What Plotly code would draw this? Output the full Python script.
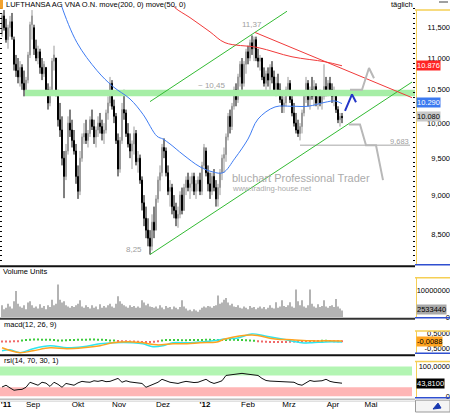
import math
import plotly.graph_objects as go

# ---------------- data ----------------
days = list(range(171))
opens = [11.40, 11.70, 11.50, 11.30, 11.50, 11.60, 11.30, 10.90, 10.80, 10.70,
         10.85, 10.60, 10.50, 10.65, 11.05, 11.55, 11.50, 11.15, 11.00, 11.10,
         10.85, 10.75, 10.85, 10.50, 10.30, 10.50, 10.95, 11.00, 10.40, 10.05,
         9.90, 9.50, 9.25, 9.60, 10.00, 9.90, 9.75, 9.60, 9.25, 9.05,
         9.50, 9.80, 9.85, 9.75, 9.85, 10.05, 9.95, 9.80, 9.90, 10.00,
         9.95, 9.85, 9.90, 10.15, 10.30, 10.60, 10.25, 10.10, 9.75, 9.35,
         9.75, 10.20, 10.15, 9.85, 9.70, 9.60, 9.70, 9.85, 9.45, 9.50,
         9.20, 8.90, 8.70, 8.55, 8.45, 8.35, 8.65, 8.55, 8.95, 9.20,
         9.30, 9.65, 9.60, 9.30, 9.05, 9.10, 8.85, 8.80, 8.70, 8.75,
         9.00, 8.80, 9.10, 9.20, 9.10, 9.15, 9.25, 9.05, 9.15, 9.20,
         9.05, 9.40, 9.60, 9.30, 9.15, 9.05, 9.25, 9.10, 8.95, 9.10,
         9.30, 9.50, 9.55, 9.80, 10.10, 9.95, 10.25, 10.50, 10.35, 10.70,
         10.90, 10.60, 10.90, 11.10, 11.00, 11.25, 11.15, 11.30, 11.00, 10.95,
         11.00, 10.70, 10.60, 10.75, 10.65, 10.85, 10.70, 10.50, 10.60, 10.50,
         10.35, 10.25, 10.30, 10.50, 10.60, 10.35, 10.15, 10.00, 9.90, 9.85,
         9.95, 10.15, 10.40, 10.60, 10.35, 10.50, 10.40, 10.55, 10.30, 10.40,
         10.30, 10.40, 10.55, 10.50, 10.60, 10.50, 10.40, 10.45, 10.20, 10.05,
         10.10]
closes = [11.70, 11.50, 11.30, 11.50, 11.60, 11.35, 10.90, 10.80, 10.70, 10.85,
          10.60, 10.50, 10.65, 11.05, 11.55, 11.70, 11.15, 11.00, 11.10, 10.85,
          10.75, 10.90, 10.50, 10.30, 10.50, 10.95, 11.05, 10.45, 10.05, 9.90,
          9.50, 9.25, 9.60, 10.00, 9.90, 9.75, 9.60, 9.25, 9.05, 9.50,
          9.80, 9.85, 9.75, 9.85, 10.05, 9.95, 9.80, 9.90, 10.00, 9.95,
          9.85, 9.90, 10.15, 10.30, 10.60, 10.25, 10.10, 9.75, 9.35, 9.75,
          10.20, 10.15, 9.85, 9.70, 9.60, 9.70, 9.85, 9.45, 9.50, 9.20,
          8.90, 8.70, 8.55, 8.45, 8.35, 8.65, 8.55, 8.95, 9.20, 9.30,
          9.65, 9.60, 9.30, 9.05, 9.10, 8.85, 8.80, 8.70, 8.75, 9.00,
          8.80, 9.10, 9.20, 9.10, 9.15, 9.25, 9.05, 9.15, 9.20, 9.05,
          9.40, 9.65, 9.30, 9.15, 9.05, 9.25, 9.10, 8.95, 9.10, 9.30,
          9.50, 9.55, 9.80, 10.10, 9.95, 10.25, 10.50, 10.35, 10.70, 10.90,
          10.60, 10.90, 11.10, 11.00, 11.25, 11.15, 11.30, 11.00, 10.95, 11.00,
          10.70, 10.60, 10.75, 10.65, 10.85, 10.70, 10.50, 10.60, 10.50, 10.35,
          10.25, 10.30, 10.50, 10.60, 10.35, 10.15, 10.00, 9.90, 9.85, 9.95,
          10.15, 10.40, 10.60, 10.35, 10.50, 10.40, 10.55, 10.30, 10.40, 10.30,
          10.40, 10.55, 10.50, 10.60, 10.50, 10.40, 10.45, 10.20, 10.05, 10.10,
          10.08]
highs = [11.75, 11.80, 11.65, 11.55, 11.70, 11.75, 11.35, 11.05, 11.00, 10.95,
         10.90, 10.80, 10.70, 11.10, 11.60, 11.80, 11.55, 11.30, 11.20, 11.15,
         11.00, 10.95, 10.85, 10.60, 10.55, 11.00, 11.20, 11.00, 10.50, 10.30,
         10.10, 9.60, 9.70, 10.10, 10.20, 10.05, 9.90, 9.70, 9.40, 9.60,
         9.85, 10.00, 10.05, 9.90, 10.10, 10.20, 10.05, 9.95, 10.10, 10.15,
         10.05, 10.00, 10.20, 10.40, 10.70, 10.65, 10.35, 10.15, 9.85, 9.80,
         10.30, 10.50, 10.20, 10.00, 9.85, 9.75, 9.95, 9.90, 9.60, 9.55,
         9.25, 9.00, 8.85, 8.70, 8.55, 8.75, 8.85, 9.00, 9.25, 9.40,
         9.70, 9.78, 9.65, 9.40, 9.20, 9.15, 9.00, 8.90, 8.85, 9.05,
         9.10, 9.15, 9.25, 9.30, 9.25, 9.30, 9.30, 9.20, 9.25, 9.30,
         9.45, 9.70, 9.65, 9.40, 9.30, 9.30, 9.35, 9.20, 9.15, 9.35,
         9.55, 9.65, 9.85, 10.15, 10.20, 10.30, 10.55, 10.60, 10.75, 10.95,
         11.00, 10.95, 11.15, 11.20, 11.30, 11.37, 11.35, 11.35, 11.15, 11.05,
         11.00, 10.85, 10.80, 10.85, 10.90, 10.95, 10.80, 10.70, 10.75, 10.60,
         10.45, 10.40, 10.55, 10.70, 10.65, 10.45, 10.30, 10.15, 10.05, 10.00,
         10.20, 10.45, 10.70, 10.65, 10.55, 10.70, 10.65, 10.60, 10.45, 10.50,
         10.45, 10.90, 10.70, 10.65, 10.70, 10.60, 10.55, 10.45, 10.25, 10.15,
         10.15]
lows = [11.35, 11.45, 11.25, 11.15, 11.35, 11.30, 10.80, 10.70, 10.60, 10.55,
        10.50, 10.40, 10.42, 10.60, 11.00, 11.30, 11.05, 10.95, 10.90, 10.75,
        10.65, 10.70, 10.45, 10.20, 10.25, 10.45, 10.80, 10.40, 9.95, 9.80,
        9.40, 8.96, 9.20, 9.55, 9.80, 9.65, 9.55, 9.15, 8.95, 9.00,
        9.45, 9.70, 9.70, 9.65, 9.80, 9.90, 9.70, 9.65, 9.80, 9.85,
        9.75, 9.70, 9.85, 10.05, 10.25, 10.20, 10.00, 9.70, 9.25, 9.30,
        9.70, 10.05, 9.80, 9.65, 9.50, 9.35, 9.55, 9.40, 9.30, 9.15,
        8.80, 8.60, 8.45, 8.35, 8.25, 8.30, 8.45, 8.55, 8.90, 9.05,
        9.25, 9.50, 9.25, 9.00, 8.85, 8.75, 8.70, 8.60, 8.58, 8.70,
        8.75, 8.80, 9.00, 9.05, 8.95, 9.05, 9.00, 8.95, 9.05, 9.00,
        9.00, 9.35, 9.25, 9.05, 8.95, 9.00, 9.05, 8.85, 8.85, 9.00,
        9.20, 9.30, 9.45, 9.75, 9.85, 9.90, 10.20, 10.25, 10.30, 10.55,
        10.50, 10.55, 10.75, 10.90, 10.95, 11.05, 10.95, 10.95, 10.85, 10.80,
        10.65, 10.55, 10.50, 10.55, 10.50, 10.60, 10.45, 10.40, 10.45, 10.30,
        10.15, 10.15, 10.25, 10.40, 10.30, 10.10, 9.95, 9.85, 9.80, 9.75,
        9.85, 10.10, 10.30, 10.25, 10.20, 10.35, 10.25, 10.25, 10.20, 10.25,
        10.20, 10.35, 10.40, 10.40, 10.45, 10.30, 10.25, 10.15, 10.00, 9.95,
        10.00]
vol_mio = [4.5, 3.0, 3.5, 5.0, 4.0, 3.2, 6.0, 9.8, 5.0, 4.0,
           3.5, 4.5, 3.0, 5.5, 6.0, 4.5, 3.5, 4.0, 3.2, 4.8,
           3.5, 4.2, 3.0, 4.5, 3.8, 6.5, 4.5, 5.0, 12.2, 6.5,
           5.5, 6.0, 4.5, 4.0, 3.5, 4.2, 3.8, 4.5, 5.0, 6.3,
           4.0, 3.5, 4.5, 3.8, 3.2, 4.5, 3.5, 4.0, 3.0, 4.8,
           3.5, 4.2, 3.6, 4.5, 5.0, 4.0, 3.5, 5.0, 7.8, 6.0,
           5.0, 4.5, 4.0, 3.5, 4.5, 3.8, 4.2, 3.5, 4.0, 3.5,
           6.3, 5.5, 4.5, 5.0, 4.0, 3.8, 3.5, 4.0, 3.2, 4.5,
           3.6, 3.0, 4.2, 3.5, 3.8, 3.0, 4.0, 3.5, 3.0, 3.8,
           6.3, 4.0, 3.2, 2.5, 2.8, 2.2, 3.0, 2.5, 2.0, 2.8,
           3.5, 4.0, 3.6, 4.2, 4.0, 3.5, 4.2, 4.5, 8.1, 5.0,
           5.5, 6.5, 7.2, 5.5, 4.5, 5.0, 4.0, 3.8, 4.5, 3.5,
           3.2, 4.0, 3.5, 3.0, 4.2, 3.5, 3.8, 3.0, 3.5, 4.0,
           3.2, 3.8, 3.0, 3.5, 4.5, 3.5, 3.2, 5.6, 3.5, 4.0,
           6.3, 4.2, 3.8, 4.5, 5.6, 4.0, 3.5, 10.4, 6.0, 4.5,
           6.3, 4.0, 3.5, 4.5, 10.4, 5.0, 4.0, 3.5, 4.8, 3.8,
           4.2, 6.3, 4.0, 3.5, 4.2, 4.5, 3.8, 6.8, 4.0, 3.2,
           2.53]

ma50_idx = [28, 30, 37.5, 47.5, 55.5, 64, 70.5, 77.5, 80.5, 84, 90.5, 99, 105.5, 110.5,
            116.5, 123, 128, 136.5, 145, 153, 161.5, 166.5, 170]
ma50_val = [12.10, 11.85, 11.25, 10.80, 10.55, 10.36, 10.13, 9.81, 9.77, 9.70, 9.55, 9.38,
            9.31, 9.30, 9.50, 9.77, 10.06, 10.24, 10.25, 10.25, 10.31, 10.33, 10.29]
ma200_idx = [84, 86.5, 94, 104, 111.5, 128, 145, 161.5, 170]
ma200_val = [11.95, 11.84, 11.67, 11.43, 11.25, 11.17, 11.02, 10.94, 10.876]

support_idx = [74, 205]
support_val = [8.25, 10.62]
channel_idx = [74, 142.5]
channel_val = [10.32, 11.78]
resist_idx = [126.5, 205]
resist_val = [11.42, 10.38]
band_idx = [11.5, 206.5]
band_lo, band_hi = 10.40, 10.50
level_idx = [149, 204]
level_val = 9.683
up_idx = [174, 180, 183.5, 186]
up_val = [10.50, 10.50, 10.84, 10.68]
down_idx = [173.5, 179, 182, 187, 190.5]
down_val = [9.98, 9.98, 9.68, 9.68, 9.20]
arrow_idx = [171.5, 175, 177]
arrow_val = [10.18, 10.43, 10.31]

macd_idx = [0, 4, 9, 15.5, 24, 32.5, 40.5, 49, 55.5, 65.5, 70.5, 75.5, 80.5, 85.5, 92.5,
            99, 105.5, 111.5, 118, 125, 131.5, 140, 150, 155, 161.5, 170]
macd_val = [-0.67, -0.60, -0.80, -0.53, -0.33, -0.47, -0.40, -0.20, -0.13, -0.13, -0.20,
            -0.40, -0.33, -0.13, -0.13, -0.07, 0.0, 0.13, 0.20, 0.47, 0.33, 0.13, -0.13,
            -0.13, -0.07, -0.07]
signal_idx = [0, 9, 15.5, 24, 32.5, 40.5, 49, 55.5, 65.5, 70.5, 77.5, 85.5, 92.5, 99,
              107.5, 111.5, 125, 136.5, 145, 155, 161.5, 170]
signal_val = [-0.47, -0.80, -0.67, -0.47, -0.53, -0.47, -0.33, -0.13, -0.07, -0.13, -0.27,
              -0.20, -0.20, -0.13, -0.07, 0.13, 0.40, 0.13, 0.07, 0.0, 0.0, -0.0088]
hist_val = [-0.05, -0.05, -0.04, -0.03, -0.02, 0.03, 0.06, 0.08, 0.09, 0.09,
            0.08, 0.08, 0.07, 0.05, 0.03, 0.02, 0.04, 0.05, 0.06, 0.07,
            0.07, 0.08, 0.09, 0.09, 0.08, 0.07, 0.05, 0.03, 0.02, -0.01,
            -0.02, -0.03, -0.04, -0.05, -0.06, -0.07, -0.08, -0.08, -0.06, -0.03,
            0.02, 0.05, 0.06, 0.05, 0.05, 0.04, 0.04, 0.05, 0.05, 0.06,
            0.06, 0.07, 0.07, 0.06, 0.05, 0.05, 0.06, 0.07, 0.07, 0.06,
            0.05, 0.04, 0.03, 0.01, -0.02, -0.04, -0.06, -0.07, -0.08, -0.08,
            -0.08, -0.07, -0.06, -0.05, -0.04, -0.03, -0.02, -0.02, -0.01, -0.01,
            0.00, 0.01, -0.01, -0.02, -0.02, -0.02]
hist_idx = list(range(0, 171, 2))

rsi_idx = list(range(0, 171, 2))
rsi_val = [31, 37, 28, 20, 22, 23, 30, 47, 42, 37, 47, 44, 33, 47, 40, 30, 43, 40, 37, 45,
           50, 48, 47, 52, 50, 53, 49, 50, 55, 60, 47, 52, 48, 47, 45, 43, 30, 35, 42, 47,
           57, 52, 47, 45, 43, 47, 50, 48, 46, 47, 52, 57, 48, 43, 47, 52, 70, 72, 73, 75,
           77, 75, 74, 73, 70, 60, 53, 51, 50, 50, 48, 47, 46, 47, 40, 37, 45, 53, 50, 50,
           52, 57, 50, 47, 45, 43.81]

month_pos = [2, 15.5, 38, 58.5, 80.5, 101.5, 123, 143.5, 165.5, 184.5]
month_txt = ["<b>'11</b>", "Sep", "Okt", "Nov", "Dez", "<b>'12</b>", "Feb", "Mrz", "Apr", "Mai"]

# ---------------- geometry ----------------
W, H = 450, 417
XR = 415


def pxx(v):
    return v / W


def pxy(v):
    return 1 - v / H


FONT = "Liberation Sans"
XRANGE = [-1, 206.5]
# log price scale: 11.5 at y=28px, 8.5 at y=237px
k = 209 / math.log(11.5 / 8.5)
p_top = 11.5 * math.exp((28 - 6) / k)
p_bot = 11.5 * math.exp(-(269 - 28) / k)

fig = go.Figure()

# band
fig.add_trace(go.Scatter(x=[band_idx[0], band_idx[1], band_idx[1], band_idx[0]],
                         y=[band_lo, band_lo, band_hi, band_hi], fill='toself',
                         fillcolor='#a6eea6', line=dict(width=0), mode='lines',
                         xaxis='x', yaxis='y', hoverinfo='skip'))
# level line
fig.add_trace(go.Scatter(x=level_idx, y=[level_val, level_val], mode='lines',
                         line=dict(color='#c4c4c4', width=1.5), xaxis='x', yaxis='y'))
# trend lines
fig.add_trace(go.Scatter(x=support_idx, y=support_val, mode='lines',
                         line=dict(color='#33bb33', width=1), xaxis='x', yaxis='y'))
fig.add_trace(go.Scatter(x=channel_idx, y=channel_val, mode='lines',
                         line=dict(color='#33bb33', width=1), xaxis='x', yaxis='y'))
fig.add_trace(go.Scatter(x=resist_idx, y=resist_val, mode='lines',
                         line=dict(color='#f03a3a', width=1), xaxis='x', yaxis='y'))
# candles
fig.add_trace(go.Candlestick(x=days, open=opens, high=highs, low=lows, close=closes,
                             increasing=dict(line=dict(color='#9a9a9a', width=1), fillcolor='#9a9a9a'),
                             decreasing=dict(line=dict(color='#000000', width=1), fillcolor='#000000'),
                             whiskerwidth=0, xaxis='x', yaxis='y', hoverinfo='skip'))
# moving averages
fig.add_trace(go.Scatter(x=ma50_idx, y=ma50_val, mode='lines', line=dict(color='#3f7cf2', width=1, shape='spline'),
                         xaxis='x', yaxis='y'))
fig.add_trace(go.Scatter(x=ma200_idx, y=ma200_val, mode='lines', line=dict(color='#f03a3a', width=1, shape='spline'),
                         xaxis='x', yaxis='y'))
# scenario sketches
fig.add_trace(go.Scatter(x=up_idx, y=up_val, mode='lines', line=dict(color='#b8b8b8', width=2),
                         xaxis='x', yaxis='y'))
fig.add_trace(go.Scatter(x=down_idx, y=down_val, mode='lines', line=dict(color='#b8b8b8', width=2),
                         xaxis='x', yaxis='y'))
fig.add_trace(go.Scatter(x=arrow_idx, y=arrow_val, mode='lines', line=dict(color='#2436c8', width=2),
                         xaxis='x', yaxis='y'))

# volume
fig.add_trace(go.Bar(x=days, y=vol_mio, marker=dict(color='#b3b3b3', line=dict(width=0)),
                     width=0.55, xaxis='x2', yaxis='y2'))

# macd
fig.add_trace(go.Scatter(x=hist_idx, y=hist_val, mode='markers',
                         marker=dict(size=2, symbol='square',
                                     color=['#3ccc3c' if v >= 0 else '#f06a6a' for v in hist_val]),
                         xaxis='x3', yaxis='y3'))
fig.add_trace(go.Scatter(x=macd_idx, y=macd_val, mode='lines', line=dict(color='#2ee6f0', width=1.5, shape='spline'),
                         xaxis='x3', yaxis='y3'))
fig.add_trace(go.Scatter(x=signal_idx, y=signal_val, mode='lines', line=dict(color='#ffa31f', width=1.5, shape='spline'),
                         xaxis='x3', yaxis='y3'))

# rsi bands and line
fig.add_trace(go.Scatter(x=[-1, 205, 205, -1], y=[70, 70, 100, 100], fill='toself', fillcolor='#b3f5b3',
                         line=dict(width=0), mode='lines', xaxis='x4', yaxis='y4'))
fig.add_trace(go.Scatter(x=[-1, 205, 205, -1], y=[0, 0, 30, 30], fill='toself', fillcolor='#ffb6b6',
                         line=dict(width=0), mode='lines', xaxis='x4', yaxis='y4'))
fig.add_trace(go.Scatter(x=rsi_idx, y=rsi_val, mode='lines', line=dict(color='#111111', width=1),
                         xaxis='x4', yaxis='y4'))

# dummy traces for tick overlay axes
for ya in ['y5', 'y6', 'y7', 'y8']:
    fig.add_trace(go.Scatter(x=[None], y=[None], xaxis='x', yaxis=ya, mode='markers'))

doms = {
    'main': [pxy(269), pxy(6)],
    'vol': [pxy(321), pxy(271)],
    'macd': [pxy(358), pxy(324)],
    'rsi': [pxy(403), pxy(361)],
}

tickfont = dict(family=FONT, size=7.5, color='#000000')
common_y = dict(side='left', anchor='free', position=1.0, showgrid=False, zeroline=False,
                showline=False, ticks='', tickfont=tickfont, fixedrange=True)
common_x = dict(domain=[0, XR / W], range=XRANGE, showgrid=False, zeroline=False,
                showline=False, ticks='', showticklabels=False, fixedrange=True)


def tick_overlay(over, step):
    return dict(overlaying=over, side='right', anchor='x', range=[0, 1], dtick=step, tick0=0,
                ticks='inside', ticklen=2, tickwidth=1, tickcolor='#000000', mirror='ticks',
                showticklabels=False, showgrid=False, zeroline=False, showline=False, fixedrange=True)


fig.update_layout(
    width=W, height=H, margin=dict(l=0, r=0, t=0, b=0),
    paper_bgcolor='white', plot_bgcolor='white', showlegend=False, hovermode=False,
    xaxis=dict(**common_x, anchor='y', rangeslider=dict(visible=False)),
    xaxis2=dict(**common_x, anchor='y2', matches='x'),
    xaxis3=dict(**common_x, anchor='y3', matches='x'),
    xaxis4=dict(domain=[0, XR / W], range=XRANGE, showgrid=False, zeroline=False, showline=False,
                ticks='', anchor='y4', matches='x', tickvals=month_pos, ticktext=month_txt,
                tickfont=dict(family=FONT, size=8, color='#000000'), fixedrange=True),
    yaxis=dict(**common_y, domain=doms['main'], type='log',
               range=[math.log10(p_bot), math.log10(p_top)],
               tickvals=[8.5, 9.0, 9.5, 10.0, 10.5, 11.0, 11.5],
               ticktext=['8,500', '9,000', '9,500', '10,000', '10,500', '11,000', '11,500']),
    yaxis2=dict(**common_y, domain=doms['vol'], range=[0, 18.5], tickvals=[0, 10],
                ticktext=['0', '10000000']),
    yaxis3=dict(**common_y, domain=doms['macd'], range=[-0.867, 1.4], tickvals=[-0.5, 0.5],
                ticktext=['-0,5000', '0,5000']),
    yaxis4=dict(**common_y, domain=doms['rsi'], range=[-6.67, 133.3], tickvals=[0, 100],
                ticktext=['0', '100,0000']),
    yaxis5=tick_overlay('y', 5 / 263),
    yaxis6=tick_overlay('y2', 5 / 50),
    yaxis7=tick_overlay('y3', 5 / 34),
    yaxis8=tick_overlay('y4', 5 / 42),
)

shapes = []


def hline(y, x0, x1, color, width=1):
    shapes.append(dict(type='line', xref='paper', yref='paper', x0=pxx(x0), x1=pxx(x1),
                       y0=pxy(y), y1=pxy(y), line=dict(color=color, width=width)))


def vline(x, y0, y1, color, width=1):
    shapes.append(dict(type='line', xref='paper', yref='paper', x0=pxx(x), x1=pxx(x),
                       y0=pxy(y0), y1=pxy(y1), line=dict(color=color, width=width)))


# panel separators
hline(269.5, 0, XR, '#111111', 2)
hline(322.5, 0, XR, '#333333', 2)
hline(359.5, 0, XR, '#111111', 2)
hline(404, 0, XR, '#9a9a9a', 1)
hline(406, 0, XR, '#d0d0d0', 1)
# axis column decorations
for top, bot in [(10, 268), (281, 321.5), (335, 357.5), (366, 402.5)]:
    hline(top, XR, W, '#f5cf55', 1.5)
    vline(XR + 1.5, top, bot, '#f5cf55', 1)
    hline(bot, XR, W, '#2f4fd0', 1.5)
# bottom right box
shapes.append(dict(type='rect', xref='paper', yref='paper', x0=pxx(XR + 0.5), x1=pxx(W), y0=pxy(417),
                   y1=pxy(405), line=dict(color='#9a9a9a', width=1), fillcolor='#f4f4f4'))
shapes.append(dict(type='path', xref='paper', yref='paper',
                   path=f"M {pxx(433)},{pxy(414)} L {pxx(438)},{pxy(408)} L {pxx(441)},{pxy(413)} Z",
                   fillcolor='#1838b0', line=dict(color='#1838b0', width=1)))
# title marker and top-right dash
shapes.append(dict(type='rect', xref='paper', yref='paper', x0=0, x1=pxx(3), y0=pxy(9), y1=pxy(0),
                   fillcolor='#f2a22e', line=dict(width=0)))
hline(2, 439, 448, '#a0a0a0', 2)
fig.update_layout(shapes=shapes)

ann = []


def text(x, y, s, anchor='left', size=7.5, color='#000000', bg=None, fam=FONT):
    d = dict(xref='paper', yref='paper', x=pxx(x), y=pxy(y), text=s, showarrow=False,
             xanchor=anchor, yanchor='middle', font=dict(family=fam, size=size, color=color),
             borderpad=0)
    if bg:
        d['bgcolor'] = bg
    ann.append(d)


text(5, 5, 'LUFTHANSA AG VNA O.N. move(200, 0) move(50, 0)')
text(414, 5, 'täglich', anchor='right')
text(2, 275, 'Volume Units')
text(3, 328, 'macd(12, 26, 9)')
text(3, 365, 'rsi(14, 70, 30, 1)')
text(252, 25, '11,37', anchor='center', color='#a0a0a0', size=8)
text(143, 253, '8,25', anchor='right', color='#a0a0a0', size=8)
text(197, 87, '~ 10,45', color='#a0a0a0', size=8)
text(410, 143, '9,683', anchor='right', color='#a0a0a0', size=7.5)
text(231, 180, 'bluchart Professional Trader', color='#ababab', size=11)
text(231, 191, 'www.trading-house.net', color='#ababab', size=7.7)
# value labels
text(416, 66, '10.876', color='white', bg='#ff2424')
text(416, 104, '10.290', color='white', bg='#3c7af0')
text(416, 118, '10.080', color='#000000', bg='#c8c8c8')
text(416, 313, '2533440', color='#000000', bg='#a8a8a8')
text(416, 346, '-0,0088', color='#000000', bg='#ffa31f')
text(416, 388, '43,8100', color='white', bg='#000000')
fig.update_layout(annotations=ann)

fig.write_html("out.html")
